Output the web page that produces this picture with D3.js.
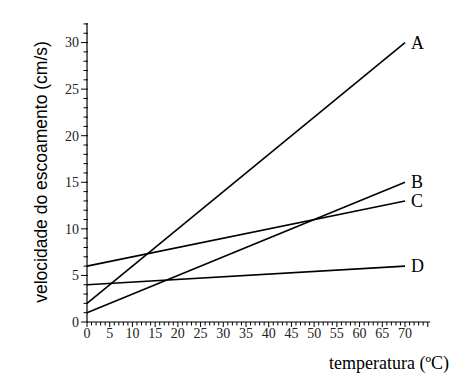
<!DOCTYPE html>
<html><head><meta charset="utf-8">
<script src="https://cdn.jsdelivr.net/npm/d3@7"></script>
<style>body{margin:0;background:#fff}svg{display:block}</style>
</head><body>
<svg id="c" width="473" height="381"></svg>
<script>
const seriesNames = ["A","B","C","D"];
const xStart = [0,0,0,0];
const xEnd = [70,70,70,70];
const yStart = [2,1,6,4];
const yEnd = [30,15,13,6];
const xMajorTicks = [0,5,10,15,20,25,30,35,40,45,50,55,60,65,70];
const yMajorTicks = [0,5,10,15,20,25,30];
const xTitle = "temperatura (ºC)";
const yTitle = "velocidade do escoamento (cm/s)";

const svg = d3.select("#c");
const x = d3.scaleLinear().domain([0,75.5]).range([87,430]);
const y = d3.scaleLinear().domain([0,32.1]).range([322,23]);
const serif = "'Liberation Serif','Times New Roman',serif";

// x axis
const xMinor = d3.range(0,76,1);
const xAx = svg.append("g").attr("transform","translate(0,322)");
xAx.append("line").attr("x1",x(0)).attr("x2",x(75.5)).attr("stroke","#000").attr("stroke-width",1.2);
xAx.selectAll(".mn").data(xMinor).join("line")
  .attr("x1",d=>x(d)).attr("x2",d=>x(d)).attr("y1",0).attr("y2",d=>d%5===0?5:3.5)
  .attr("stroke","#000").attr("stroke-width",1);
xAx.selectAll("text").data(xMajorTicks).join("text")
  .attr("x",d=>x(d)).attr("y",16).attr("text-anchor","middle")
  .attr("font-family",serif).attr("font-size",14).attr("fill","#222").text(d=>d);

// y axis
const yMinor = d3.range(0,33,1);
const yAx = svg.append("g").attr("transform","translate(87,0)");
yAx.append("line").attr("y1",y(0)).attr("y2",y(32.1)).attr("stroke","#000").attr("stroke-width",1.2);
yAx.selectAll(".mn").data(yMinor).join("line")
  .attr("y1",d=>y(d)).attr("y2",d=>y(d)).attr("x1",d=>d%5===0?-6:-3.5).attr("x2",1)
  .attr("stroke","#000").attr("stroke-width",1);
yAx.selectAll("text").data(yMajorTicks).join("text")
  .attr("x",-8).attr("y",d=>y(d)+4.8).attr("text-anchor","end")
  .attr("font-family",serif).attr("font-size",14).attr("fill","#222").text(d=>d);

// lines
const data = seriesNames.map((n,i)=>({n, x0:xStart[i], x1:xEnd[i], y0:yStart[i], y1:yEnd[i]}));
svg.selectAll(".ln").data(data).join("line")
  .attr("x1",d=>x(d.x0)).attr("y1",d=>y(d.y0)).attr("x2",d=>x(d.x1)).attr("y2",d=>y(d.y1))
  .attr("stroke","#000").attr("stroke-width",1.6);
svg.selectAll(".lb").data(data).join("text")
  .attr("x",d=>x(d.x1)+6).attr("y",d=>y(d.y1)+6)
  .attr("font-family",serif).attr("font-size",18).attr("fill","#000").text(d=>d.n);

// titles
svg.append("text").attr("x",449).attr("y",369).attr("text-anchor","end")
  .attr("font-family",serif).attr("font-size",18).attr("fill","#000").text(xTitle);
svg.append("text").attr("transform","translate(47,172) rotate(-90)").attr("text-anchor","middle")
  .attr("font-family","'Liberation Sans',Arial,sans-serif").attr("font-size",17.5).attr("fill","#000").text(yTitle);
</script>
</body></html>
